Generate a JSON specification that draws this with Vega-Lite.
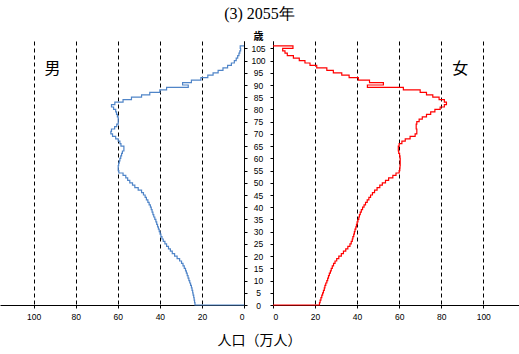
{
  "$schema": "https://vega.github.io/schema/vega-lite/v6.json",
  "padding": {"left": 0, "right": 0, "top": 6, "bottom": 0},
  "title": {"text": "(3) 2055年", "fontSize": 16, "fontWeight": "normal", "color": "black", "anchor": "middle", "offset": 9},
  "config": {
    "view": {"stroke": null},
    "title": {"font": "Liberation Serif"},
    "axis": {"domainColor": "black", "tickColor": "black", "tickSize": 3, "labelColor": "black", "labelFont": "Liberation Sans", "labelFontSize": 8.5, "gridColor": "black", "gridDash": [4, 3], "gridWidth": 1, "gridOpacity": 1, "labelOverlap": false}
  },
  "datasets": {
    "male": [
      {"i": 0, "age": 0, "v": 0},
      {"i": 1, "age": 0, "v": 23.3}, {"i": 2, "age": 1, "v": 23.5}, {"i": 3, "age": 2, "v": 23.7}, {"i": 4, "age": 3, "v": 23.9}, {"i": 5, "age": 4, "v": 24.2},
      {"i": 6, "age": 5, "v": 24.4}, {"i": 7, "age": 6, "v": 24.7}, {"i": 8, "age": 7, "v": 25.0}, {"i": 9, "age": 8, "v": 25.4}, {"i": 10, "age": 9, "v": 25.8},
      {"i": 11, "age": 10, "v": 26.2}, {"i": 12, "age": 11, "v": 26.6}, {"i": 13, "age": 12, "v": 27.0}, {"i": 14, "age": 13, "v": 27.4}, {"i": 15, "age": 14, "v": 27.8},
      {"i": 16, "age": 15, "v": 28.4}, {"i": 17, "age": 16, "v": 29.0}, {"i": 18, "age": 17, "v": 29.7}, {"i": 19, "age": 18, "v": 30.6}, {"i": 20, "age": 19, "v": 31.8},
      {"i": 21, "age": 20, "v": 33.0}, {"i": 22, "age": 21, "v": 34.1}, {"i": 23, "age": 22, "v": 35.0}, {"i": 24, "age": 23, "v": 35.9}, {"i": 25, "age": 24, "v": 36.8},
      {"i": 26, "age": 25, "v": 37.6}, {"i": 27, "age": 26, "v": 38.4}, {"i": 28, "age": 27, "v": 39.0}, {"i": 29, "age": 28, "v": 39.5}, {"i": 30, "age": 29, "v": 39.9},
      {"i": 31, "age": 30, "v": 40.3}, {"i": 32, "age": 31, "v": 40.7}, {"i": 33, "age": 32, "v": 41.1}, {"i": 34, "age": 33, "v": 41.5}, {"i": 35, "age": 34, "v": 41.9},
      {"i": 36, "age": 35, "v": 42.4}, {"i": 37, "age": 36, "v": 42.9}, {"i": 38, "age": 37, "v": 43.3}, {"i": 39, "age": 38, "v": 43.7}, {"i": 40, "age": 39, "v": 44.1},
      {"i": 41, "age": 40, "v": 44.5}, {"i": 42, "age": 41, "v": 45.1}, {"i": 43, "age": 42, "v": 45.7}, {"i": 44, "age": 43, "v": 46.4}, {"i": 45, "age": 44, "v": 47.0},
      {"i": 46, "age": 45, "v": 47.8}, {"i": 47, "age": 46, "v": 48.7}, {"i": 48, "age": 47, "v": 50.3}, {"i": 49, "age": 48, "v": 51.9}, {"i": 50, "age": 49, "v": 53.0},
      {"i": 51, "age": 50, "v": 54.3}, {"i": 52, "age": 51, "v": 55.3}, {"i": 53, "age": 52, "v": 56.2}, {"i": 54, "age": 53, "v": 57.5}, {"i": 55, "age": 54, "v": 59.5},
      {"i": 56, "age": 55, "v": 59.8}, {"i": 57, "age": 56, "v": 59.8}, {"i": 58, "age": 57, "v": 59.6}, {"i": 59, "age": 58, "v": 59.3}, {"i": 60, "age": 59, "v": 59.0},
      {"i": 61, "age": 60, "v": 58.6}, {"i": 62, "age": 61, "v": 58.2}, {"i": 63, "age": 62, "v": 57.8}, {"i": 64, "age": 63, "v": 57.1}, {"i": 65, "age": 64, "v": 57.1},
      {"i": 66, "age": 65, "v": 58.5}, {"i": 67, "age": 66, "v": 59.0}, {"i": 68, "age": 67, "v": 59.8}, {"i": 69, "age": 68, "v": 61.0}, {"i": 70, "age": 69, "v": 62.5},
      {"i": 71, "age": 70, "v": 63.3}, {"i": 72, "age": 71, "v": 63.0}, {"i": 73, "age": 72, "v": 61.5}, {"i": 74, "age": 73, "v": 60.5}, {"i": 75, "age": 74, "v": 59.8},
      {"i": 76, "age": 75, "v": 59.8}, {"i": 77, "age": 76, "v": 59.8}, {"i": 78, "age": 77, "v": 60.2}, {"i": 79, "age": 78, "v": 60.6}, {"i": 80, "age": 79, "v": 61.0},
      {"i": 81, "age": 80, "v": 62.0}, {"i": 82, "age": 81, "v": 63.0}, {"i": 83, "age": 82, "v": 61.4}, {"i": 84, "age": 83, "v": 57.5}, {"i": 85, "age": 84, "v": 53.5},
      {"i": 86, "age": 85, "v": 48.7}, {"i": 87, "age": 86, "v": 44.8}, {"i": 88, "age": 87, "v": 40.0}, {"i": 89, "age": 88, "v": 36.8}, {"i": 90, "age": 89, "v": 26.5},
      {"i": 91, "age": 90, "v": 29.2}, {"i": 92, "age": 91, "v": 25.0}, {"i": 93, "age": 92, "v": 20.5}, {"i": 94, "age": 93, "v": 17.2}, {"i": 95, "age": 94, "v": 14.7},
      {"i": 96, "age": 95, "v": 12.3}, {"i": 97, "age": 96, "v": 10.0}, {"i": 98, "age": 97, "v": 7.8}, {"i": 99, "age": 98, "v": 6.0}, {"i": 100, "age": 99, "v": 4.6},
      {"i": 101, "age": 100, "v": 3.7}, {"i": 102, "age": 101, "v": 3.0}, {"i": 103, "age": 102, "v": 2.4}, {"i": 104, "age": 103, "v": 2.0}, {"i": 105, "age": 104, "v": 1.6},
      {"i": 106, "age": 105, "v": 1.8},
      {"i": 107, "age": 106, "v": 1.8},
      {"i": 108, "age": 106, "v": 0}
    ],
    "female": [
      {"i": 0, "age": 0, "v": 0},
      {"i": 1, "age": 0, "v": 22.1}, {"i": 2, "age": 1, "v": 22.4}, {"i": 3, "age": 2, "v": 22.8}, {"i": 4, "age": 3, "v": 23.2}, {"i": 5, "age": 4, "v": 23.6},
      {"i": 6, "age": 5, "v": 24.0}, {"i": 7, "age": 6, "v": 24.4}, {"i": 8, "age": 7, "v": 24.7}, {"i": 9, "age": 8, "v": 25.1}, {"i": 10, "age": 9, "v": 25.6},
      {"i": 11, "age": 10, "v": 26.0}, {"i": 12, "age": 11, "v": 26.4}, {"i": 13, "age": 12, "v": 26.8}, {"i": 14, "age": 13, "v": 27.3}, {"i": 15, "age": 14, "v": 27.7},
      {"i": 16, "age": 15, "v": 28.2}, {"i": 17, "age": 16, "v": 28.8}, {"i": 18, "age": 17, "v": 29.5}, {"i": 19, "age": 18, "v": 30.3}, {"i": 20, "age": 19, "v": 31.3},
      {"i": 21, "age": 20, "v": 32.5}, {"i": 22, "age": 21, "v": 33.5}, {"i": 23, "age": 22, "v": 34.6}, {"i": 24, "age": 23, "v": 35.6}, {"i": 25, "age": 24, "v": 36.6},
      {"i": 26, "age": 25, "v": 37.2}, {"i": 27, "age": 26, "v": 37.7}, {"i": 28, "age": 27, "v": 38.0}, {"i": 29, "age": 28, "v": 38.4}, {"i": 30, "age": 29, "v": 38.7},
      {"i": 31, "age": 30, "v": 39.0}, {"i": 32, "age": 31, "v": 39.4}, {"i": 33, "age": 32, "v": 39.7}, {"i": 34, "age": 33, "v": 40.0}, {"i": 35, "age": 34, "v": 40.4},
      {"i": 36, "age": 35, "v": 40.8}, {"i": 37, "age": 36, "v": 41.1}, {"i": 38, "age": 37, "v": 41.5}, {"i": 39, "age": 38, "v": 42.0}, {"i": 40, "age": 39, "v": 42.6},
      {"i": 41, "age": 40, "v": 43.3}, {"i": 42, "age": 41, "v": 44.0}, {"i": 43, "age": 42, "v": 44.8}, {"i": 44, "age": 43, "v": 45.6}, {"i": 45, "age": 44, "v": 46.4},
      {"i": 46, "age": 45, "v": 47.3}, {"i": 47, "age": 46, "v": 48.3}, {"i": 48, "age": 47, "v": 49.5}, {"i": 49, "age": 48, "v": 50.8}, {"i": 50, "age": 49, "v": 52.0},
      {"i": 51, "age": 50, "v": 53.5}, {"i": 52, "age": 51, "v": 55.0}, {"i": 53, "age": 52, "v": 57.0}, {"i": 54, "age": 53, "v": 58.5}, {"i": 55, "age": 54, "v": 60.0},
      {"i": 56, "age": 55, "v": 60.3}, {"i": 57, "age": 56, "v": 60.4}, {"i": 58, "age": 57, "v": 60.5}, {"i": 59, "age": 58, "v": 60.5}, {"i": 60, "age": 59, "v": 60.5},
      {"i": 61, "age": 60, "v": 60.4}, {"i": 62, "age": 61, "v": 60.2}, {"i": 63, "age": 62, "v": 59.8}, {"i": 64, "age": 63, "v": 59.6}, {"i": 65, "age": 64, "v": 59.6},
      {"i": 66, "age": 65, "v": 60.0}, {"i": 67, "age": 66, "v": 61.3}, {"i": 68, "age": 67, "v": 62.9}, {"i": 69, "age": 68, "v": 65.2}, {"i": 70, "age": 69, "v": 67.6},
      {"i": 71, "age": 70, "v": 68.4}, {"i": 72, "age": 71, "v": 68.4}, {"i": 73, "age": 72, "v": 68.1}, {"i": 74, "age": 73, "v": 68.1}, {"i": 75, "age": 74, "v": 68.4},
      {"i": 76, "age": 75, "v": 69.5}, {"i": 77, "age": 76, "v": 71.0}, {"i": 78, "age": 77, "v": 73.0}, {"i": 79, "age": 78, "v": 75.0}, {"i": 80, "age": 79, "v": 77.0},
      {"i": 81, "age": 80, "v": 79.5}, {"i": 82, "age": 81, "v": 81.5}, {"i": 83, "age": 82, "v": 82.5}, {"i": 84, "age": 83, "v": 81.5}, {"i": 85, "age": 84, "v": 79.0},
      {"i": 86, "age": 85, "v": 76.0}, {"i": 87, "age": 86, "v": 73.0}, {"i": 88, "age": 87, "v": 70.0}, {"i": 89, "age": 88, "v": 62.0}, {"i": 90, "age": 89, "v": 44.9},
      {"i": 91, "age": 90, "v": 52.5}, {"i": 92, "age": 91, "v": 45.9}, {"i": 93, "age": 92, "v": 40.6}, {"i": 94, "age": 93, "v": 36.2}, {"i": 95, "age": 94, "v": 32.7},
      {"i": 96, "age": 95, "v": 28.7}, {"i": 97, "age": 96, "v": 25.6}, {"i": 98, "age": 97, "v": 20.8}, {"i": 99, "age": 98, "v": 17.6}, {"i": 100, "age": 99, "v": 15.2},
      {"i": 101, "age": 100, "v": 12.5}, {"i": 102, "age": 101, "v": 9.7}, {"i": 103, "age": 102, "v": 6.8}, {"i": 104, "age": 103, "v": 5.7}, {"i": 105, "age": 104, "v": 4.6},
      {"i": 106, "age": 105, "v": 9.5},
      {"i": 107, "age": 106, "v": 9.5},
      {"i": 108, "age": 106, "v": 0}
    ],
    "mlabel": [{"v": 91, "age": 96.5, "t": "男"}],
    "flabel": [{"v": 89, "age": 96.5, "t": "女"}]
  },
  "bounds": "flush",
  "spacing": 29,
  "hconcat": [
    {
      "width": 244,
      "height": 264,
      "encoding": {
        "x": {"field": "v", "type": "quantitative", "scale": {"domain": [0, 116], "reverse": true, "nice": false}, "axis": {"values": [0, 20, 40, 60, 80, 100], "grid": true, "title": null, "labelPadding": 4}},
        "y": {"field": "age", "type": "quantitative", "scale": {"domain": [0, 108], "nice": false}, "axis": {"orient": "right", "values": [0, 5, 10, 15, 20, 25, 30, 35, 40, 45, 50, 55, 60, 65, 70, 75, 80, 85, 90, 95, 100, 105], "labels": false, "grid": false, "title": null}}
      },
      "layer": [
        {
          "data": {"name": "male"},
          "mark": {"type": "line", "interpolate": "step-before", "color": "#5085c8", "strokeWidth": 1.2},
          "encoding": {"order": {"field": "i", "type": "quantitative"}}
        },
        {
          "data": {"name": "mlabel"},
          "mark": {"type": "text", "font": "Noto Sans CJK JP", "fontSize": 16, "color": "black"},
          "encoding": {"text": {"field": "t"}}
        }
      ]
    },
    {
      "width": 246,
      "height": 264,
      "encoding": {
        "x": {"field": "v", "type": "quantitative", "scale": {"domain": [0, 117], "nice": false}, "axis": {"values": [0, 20, 40, 60, 80, 100], "grid": true, "labelPadding": 4, "title": "人口（万人）", "titleFont": "Noto Sans CJK JP", "titleFontSize": 14, "titleFontWeight": "normal", "titleColor": "black", "titleX": -14, "titleY": 35, "titleAlign": "center", "titleBaseline": "middle"}},
        "y": {"field": "age", "type": "quantitative", "scale": {"domain": [0, 108], "nice": false}, "axis": {"orient": "left", "values": [0, 5, 10, 15, 20, 25, 30, 35, 40, 45, 50, 55, 60, 65, 70, 75, 80, 85, 90, 95, 100, 105], "grid": false, "labelAlign": "center", "labelPadding": 12, "labelBaseline": "middle", "title": "歳", "titleAngle": 0, "titleX": -15, "titleY": -5, "titleAlign": "center", "titleBaseline": "middle", "titleFont": "Noto Sans CJK JP", "titleFontSize": 10, "titleFontWeight": "bold", "titleColor": "black"}}
      },
      "layer": [
        {
          "data": {"name": "female"},
          "mark": {"type": "line", "interpolate": "step-before", "color": "#ff0000", "strokeWidth": 1.2},
          "encoding": {"order": {"field": "i", "type": "quantitative"}}
        },
        {
          "data": {"name": "flabel"},
          "mark": {"type": "text", "font": "Noto Sans CJK JP", "fontSize": 16, "color": "black"},
          "encoding": {"text": {"field": "t"}}
        }
      ]
    }
  ]
}
